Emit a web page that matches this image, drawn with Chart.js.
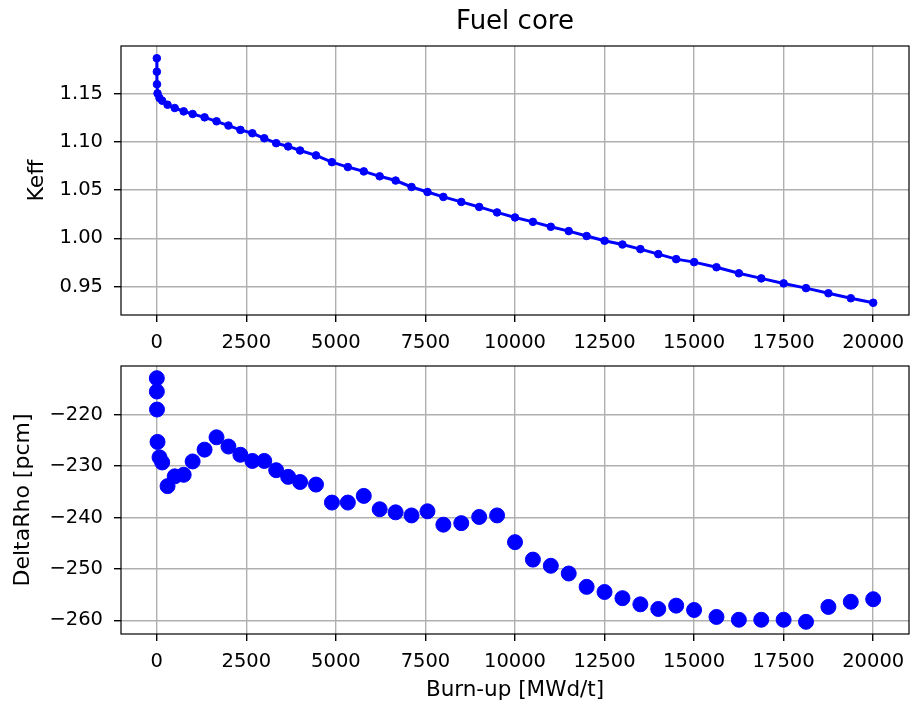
<!DOCTYPE html>
<html><head><meta charset="utf-8">
<script src="https://cdn.jsdelivr.net/npm/chart.js@4/dist/chart.umd.min.js"></script>
<style>
html,body{margin:0;padding:0;background:#fff;}
#wrap{position:relative;width:911px;height:704px;overflow:hidden;}
canvas{position:absolute;left:0;}
#c1{top:0}
#c2{top:350px}
</style></head><body>
<div id="wrap"><canvas id="c1" width="911" height="350"></canvas><canvas id="c2" width="911" height="354"></canvas></div>
<script>
const burnup = [0, 1, 5, 20, 75, 150, 300, 500, 750, 1000,
  1333, 1667, 2000, 2333, 2667, 3000, 3333, 3667, 4000,
  4444, 4889, 5333, 5778, 6222, 6667, 7111, 7556, 8000,
  8500, 9000, 9500, 10000, 10500, 11000, 11500, 12000, 12500, 13000, 13500, 14000, 14500, 15000,
  15625, 16250, 16875, 17500, 18125, 18750, 19375, 20000];
const keff = [1.187, 1.173, 1.160, 1.1505, 1.1457, 1.1429, 1.1387, 1.1353, 1.1318, 1.1291,
  1.1256, 1.1215, 1.1171, 1.1126, 1.1091, 1.1039, 1.0988, 1.0954, 1.0912,
  1.0861, 1.0791, 1.0740, 1.0695, 1.0644, 1.0600, 1.0533, 1.0481, 1.0430,
  1.0378, 1.0326, 1.0269, 1.0217, 1.0171, 1.0120, 1.0075, 1.0024, 0.9975, 0.9936, 0.9888, 0.9836, 0.9784, 0.9753,
  0.9700, 0.9637, 0.9584, 0.9532, 0.9483, 0.9430, 0.9378, 0.9331];
const deltaRho = [-212.9, -215.5, -219.0, -225.3, -228.3, -229.3, -233.9, -232.0, -231.7, -229.1,
  -226.8, -224.4, -226.2, -227.8, -229.0, -229.0, -230.8, -232.1, -233.1,
  -233.6, -237.1, -237.1, -235.8, -238.4, -239.0, -239.6, -238.8, -241.4,
  -241.1, -239.9, -239.6, -244.8, -248.2, -249.4, -250.9, -253.5, -254.5, -255.7, -256.9, -257.8, -257.15, -258.0,
  -259.35, -259.9, -259.9, -259.9, -260.3, -257.4, -256.4, -255.9];
const xTicks = [0, 2500, 5000, 7500, 10000, 12500, 15000, 17500, 20000];
const keffTicks = [0.95, 1.00, 1.05, 1.10, 1.15];
const rhoTicks = [-260, -250, -240, -230, -220];
const titleText = 'Fuel core';
const xLabel = 'Burn-up [MWd/t]';
const keffLabel = 'Keff';
const rhoLabel = 'DeltaRho [pcm]';

Chart.defaults.font.family = "'DejaVu Sans', sans-serif";
Chart.defaults.color = '#000';

const frame = {
  id: 'frame',
  afterDatasetsDraw(chart) {
    const {ctx, chartArea: a} = chart;
    ctx.save();
    ctx.strokeStyle = '#000';
    ctx.lineWidth = 1.2;
    ctx.strokeRect(a.left, a.top, a.right - a.left, a.bottom - a.top);
    ctx.restore();
  }
};

function pad(vals) {
  const lo = Math.min(...vals), hi = Math.max(...vals), m = (hi - lo) * 0.05;
  return {min: lo - m, max: hi + m};
}
const xr = pad(burnup);
const gridOpts = {color: '#b0b0b0', lineWidth: 1.4, tickLength: 7, tickColor: '#000', tickWidth: 1.4};
const minus = v => v < 0 ? '\u2212' + Math.abs(v) : String(v);

function xScale(h, title) {
  return {
    type: 'linear', min: xr.min, max: xr.max,
    afterBuildTicks: s => { s.ticks = xTicks.map(v => ({value: v})); },
    afterFit: s => { s.height = h; s.paddingLeft = 0; s.paddingRight = 0; },
    ticks: {font: {size: 19.5}, color: '#000', padding: 9, maxRotation: 0, autoSkip: false, callback: v => String(v)},
    grid: gridOpts,
    border: {display: false},
    title: title ? {display: true, text: title, font: {size: 21.5}, color: '#000', padding: {top: 0, bottom: 1}} : {display: false}
  };
}
function yScale(range, ticks, fmt, title, tpad) {
  return {
    type: 'linear', min: range.min, max: range.max,
    afterBuildTicks: s => { s.ticks = ticks.map(v => ({value: v})); },
    afterFit: s => { s.width = 121; s.paddingTop = 0; s.paddingBottom = 0; },
    ticks: {font: {size: 19.5}, color: '#000', padding: 11, autoSkip: false, callback: fmt},
    grid: gridOpts,
    border: {display: false},
    title: {display: true, text: title, font: {size: 22}, color: '#000', padding: {top: tpad, bottom: 0}}
  };
}

new Chart(document.getElementById('c1'), {
  type: 'scatter',
  data: {datasets: [{
    data: burnup.map((b, i) => ({x: b, y: keff[i]})),
    showLine: true, borderColor: '#0000ff', borderWidth: 3,
    pointRadius: 3.8, pointBorderWidth: 1, pointBackgroundColor: '#0000ff', pointBorderColor: '#0000ff'
  }]},
  options: {
    responsive: false, animation: false, devicePixelRatio: 1,
    layout: {autoPadding: false, padding: {left: 0, right: 2, top: 0, bottom: 0}},
    plugins: {legend: {display: false}, tooltip: {enabled: false},
      title: {display: true, text: titleText, fullSize: false, color: '#000', font: {size: 26, weight: 'normal'}, padding: {top: 7, bottom: 7.8}}},
    scales: {x: xScale(35, null), y: yScale(pad(keff), keffTicks, v => v.toFixed(2), keffLabel, 24)}
  },
  plugins: [frame]
});

new Chart(document.getElementById('c2'), {
  type: 'scatter',
  data: {datasets: [{
    data: burnup.map((b, i) => ({x: b, y: deltaRho[i]})),
    showLine: false,
    pointRadius: 7.5, pointBorderWidth: 1, pointBackgroundColor: '#0000ff', pointBorderColor: '#0000ff'
  }]},
  options: {
    responsive: false, animation: false, devicePixelRatio: 1,
    layout: {autoPadding: false, padding: {left: 0, right: 2, top: 16, bottom: 0}},
    plugins: {legend: {display: false}, tooltip: {enabled: false}, title: {display: false}},
    scales: {x: xScale(70, xLabel), y: yScale(pad(deltaRho), rhoTicks, minus, rhoLabel, 10)}
  },
  plugins: [frame]
});
</script>
</body></html>
